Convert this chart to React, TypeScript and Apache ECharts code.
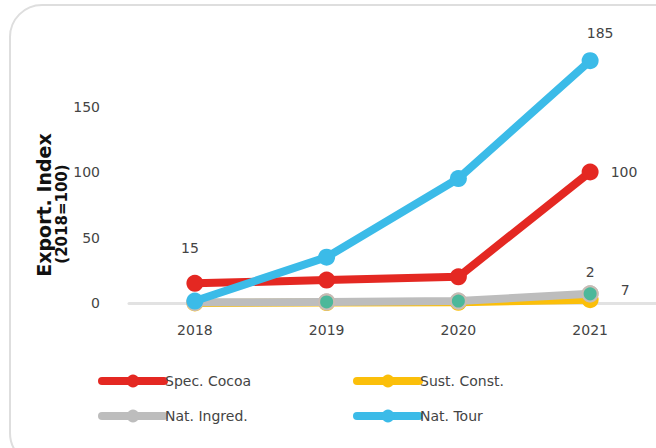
import React, { useEffect, useRef } from "react";
import * as echarts from "echarts";

const years = ["2018", "2019", "2020", "2021"];
const specCocoa = [15, 17.5, 20, 100];
const sustConst = [0, 0.3, 0.5, 2.5];
const natIngred = [0.5, 0.8, 1.5, 7];
const natTour = [1.5, 35, 95, 185];
const otherDots = [0.5, 0.8, 1.5, 7];
const yTicks = [0, 50, 100, 150];

const FONT = "DejaVu Sans";

export default function App() {
  const ref = useRef<HTMLDivElement>(null);
  useEffect(() => {
    document.body.style.margin = "0";
    if (!ref.current) return;
    const chart = echarts.init(ref.current, undefined, { renderer: "svg" });
    const lbl = { color: "#444", fontFamily: FONT, fontSize: 14 };
    const line = (name: string, data: any[], color: string, z: number) => ({
      name,
      type: "line",
      data,
      z,
      symbol: "circle",
      symbolSize: 17,
      lineStyle: { width: 8, color, cap: "round", join: "round" },
      itemStyle: { color },
      emphasis: { disabled: true },
    });
    const legendBase = {
      top: 369,
      orient: "vertical",
      itemGap: 21,
      itemWidth: 62,
      itemHeight: 16,
      lineStyle: { width: 8, cap: "round" },
      textStyle: { ...lbl, padding: [0, 0, 0, -4] },
    };
    chart.setOption({
      animation: false,
      textStyle: { fontFamily: FONT },
      grid: { left: 129, right: 0, top: 41, bottom: 145 },
      xAxis: {
        type: "category",
        data: years,
        boundaryGap: true,
        axisLine: { lineStyle: { color: "#e2e2e2", width: 3 } },
        axisTick: { show: false },
        axisLabel: { ...lbl, margin: 20 },
      },
      yAxis: {
        type: "value",
        min: 0,
        max: 200,
        interval: 50,
        splitLine: { show: false },
        axisLine: { show: false },
        axisTick: { show: false },
        axisLabel: {
          ...lbl,
          margin: 29,
          formatter: (v: number) => (yTicks.includes(v) ? String(v) : ""),
        },
      },
      legend: [
        { ...legendBase, left: 93, data: ["Spec. Cocoa", "Nat. Ingred."] },
        { ...legendBase, left: 348, data: ["Sust. Const.", "Nat. Tour"] },
      ],
      graphic: [
        {
          type: "rect",
          shape: { x: 10, y: 5, width: 700, height: 460, r: 32 },
          style: { fill: "none", stroke: "#dedede", lineWidth: 2 },
          silent: true,
        },
        {
          type: "text",
          x: 44,
          y: 205,
          rotation: Math.PI / 2,
          style: {
            text: "Export. Index",
            fontFamily: FONT,
            fontSize: 19,
            fontWeight: "bold",
            fill: "#111",
            align: "center",
            verticalAlign: "middle",
          },
        },
        {
          type: "text",
          x: 62,
          y: 214,
          rotation: Math.PI / 2,
          style: {
            text: "(2018=100)",
            fontFamily: FONT,
            fontSize: 15,
            fontWeight: "bold",
            fill: "#111",
            align: "center",
            verticalAlign: "middle",
          },
        },
      ],
      series: [
        {
          ...line(
            "Sust. Const.",
            sustConst.map((v, i) =>
              i === 3
                ? { value: v, label: { show: true, position: "top", distance: 12, formatter: "2", ...lbl } }
                : v
            ),
            "#fbbf0a",
            2
          ),
        },
        {
          ...line(
            "Nat. Ingred.",
            natIngred.map((v, i) =>
              i === 3
                ? {
                    value: v,
                    label: { show: true, position: "right", distance: 22, offset: [0, -4], formatter: "7", ...lbl },
                  }
                : v
            ),
            "#bdbdbd",
            3
          ),
        },
        {
          name: "other",
          type: "line",
          data: otherDots,
          z: 4,
          symbol: "circle",
          symbolSize: 15,
          showSymbol: true,
          lineStyle: { width: 0, opacity: 0 },
          itemStyle: { color: "#4cb89a", borderColor: "#c8bcb4", borderWidth: 2 },
          emphasis: { disabled: true },
        },
        {
          ...line(
            "Spec. Cocoa",
            specCocoa.map((v, i) =>
              i === 0
                ? { value: v, label: { show: true, position: "top", distance: 20, offset: [-5, 0], formatter: "15", ...lbl } }
                : i === 3
                ? { value: v, label: { show: true, position: "right", distance: 12, formatter: "100", ...lbl } }
                : v
            ),
            "#e42822",
            5
          ),
        },
        {
          ...line(
            "Nat. Tour",
            natTour.map((v, i) =>
              i === 3
                ? { value: v, label: { show: true, position: "top", distance: 12, offset: [10, 0], formatter: "185", ...lbl } }
                : v
            ),
            "#3bbbe8",
            6
          ),
        },
      ],
    });
    return () => chart.dispose();
  }, []);
  return <div ref={ref} style={{ width: 656, height: 448 }} />;
}
